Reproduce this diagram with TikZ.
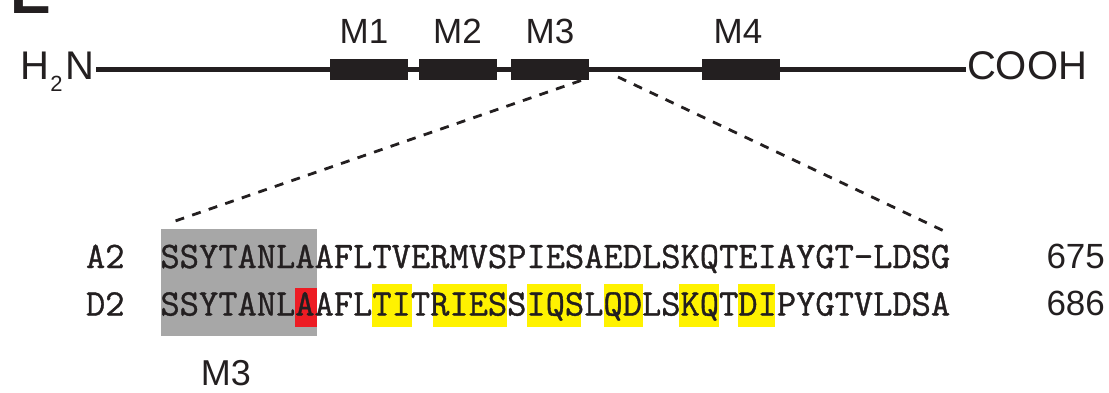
\documentclass[tikz,border=0pt]{standalone}
\usepackage{fontspec}
\setmainfont{Liberation Sans}
\setmonofont{Latin Modern Mono}
\newfontfamily\seqfont[FakeBold=1]{Latin Modern Mono}
\definecolor{ink}{HTML}{231F20}
\definecolor{greybox}{HTML}{A7A7A7}
\definecolor{redbox}{HTML}{ED1C24}
\definecolor{yelbox}{HTML}{FFF200}
\begin{document}
\begin{tikzpicture}[x=1pt,y=-1pt,
  every node/.style={inner sep=0pt, outer sep=0pt, text=ink},
  tmbox/.style={fill=ink, draw=none, minimum width=78pt, minimum height=21pt},
  mlabel/.style={font=\fontsize{35}{35}\selectfont, anchor=base},
  endlabel/.style={font=\fontsize{40}{40}\selectfont, anchor=base west},
  seqtext/.style={font=\seqfont\fontsize{37.4}{37.4}\selectfont, anchor=base west},
  numtext/.style={font=\fontsize{35}{35}\selectfont, anchor=base west},
  hl/.style={fill=yelbox, draw=none},
  zoomline/.style={draw=ink, line width=2.8pt, dash pattern=on 9pt off 8.5pt},
  backbone/.style={draw=ink, line width=4.8pt}
]
\useasboundingbox (0,0) rectangle (1109,392);
% panel letter (cut off)
\node[font=\bfseries\fontsize{61}{61}\selectfont, anchor=base west] (panel) at (10.5,13) {E};
% backbone
\node[endlabel] (hn) at (20,79) {H\kern1.5pt\raisebox{-12pt}{\fontsize{22}{22}\selectfont 2}\kern2.5pt N};
\node[endlabel] (cooh) at (967,79) {COOH};
\coordinate (bbL) at (96,69.2);
\coordinate (bbR) at (966,69.2);
\draw[backbone] (bbL) -- (bbR);
\node[tmbox] (m1) at (368.5,69.5) {};
\node[tmbox] (m2) at (457.8,69.5) {};
\node[tmbox] (m3) at (549.5,69.5) {};
\node[tmbox] (m4) at (740.5,69.5) {};
\node[mlabel] (m1l) at (364,43) {M1};
\node[mlabel] (m2l) at (457.5,43) {M2};
\node[mlabel] (m3l) at (550,43) {M3};
\node[mlabel] (m4l) at (738,43) {M4};
% zoom lines
\coordinate (zl1) at (581,80.5);
\coordinate (zl2) at (168,223.5);
\coordinate (zr1) at (618,77);
\coordinate (zr2) at (944,231);
\draw[zoomline] (zl1) -- (zl2);
\draw[zoomline] (zr1) -- (zr2);
% highlights
\fill[greybox] (161,229) rectangle (317,336);
\fill[redbox] (295,288) rectangle (317,327);
\fill[hl] (372,284) rectangle (412,327);
\fill[hl] (433,284) rectangle (507,327);
\fill[hl] (527,284) rectangle (581,327);
\fill[hl] (604,284) rectangle (643,327);
\fill[hl] (679,284) rectangle (719,327);
\fill[hl] (738,284) rectangle (775,327);
% alignment
\node[seqtext] (a2lab) at (86,268) {A2};
\node[seqtext] (a2seq) at (160.5,268) {SSYTANLAAFLTVERMVSPIESAEDLSKQTEIAYGT-LDSG};
\node[numtext] (a2num) at (1046.5,268) {675};
\node[seqtext] (d2lab) at (86,315.5) {D2};
\node[seqtext] (d2seq) at (160.5,315.5) {SSYTANLAAFLTITRIESSIQSLQDLSKQTDIPYGTVLDSA};
\node[numtext] (d2num) at (1046.5,315.5) {686};
\node[font=\fontsize{36}{36}\selectfont, anchor=base] (m3b) at (226,385) {M3};
\end{tikzpicture}
\end{document}
